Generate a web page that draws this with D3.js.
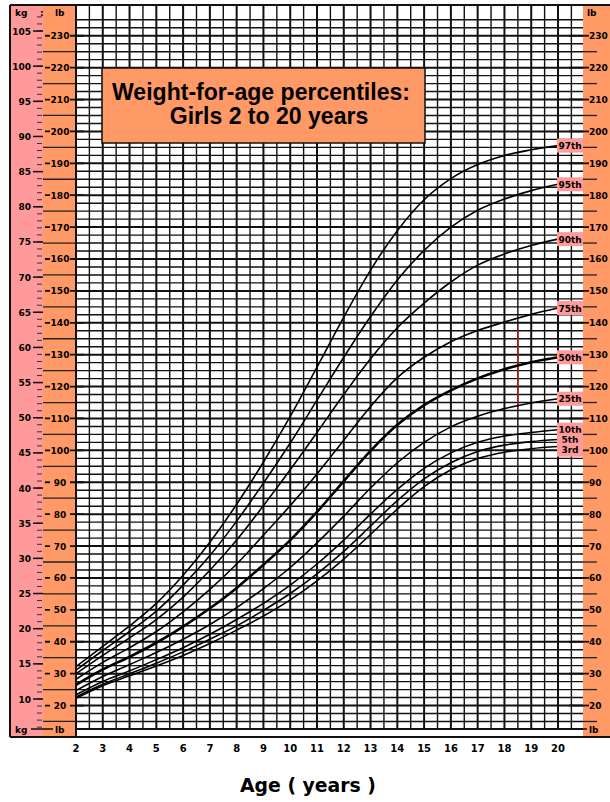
<!DOCTYPE html>
<html><head><meta charset="utf-8">
<script src="https://cdn.jsdelivr.net/npm/d3@7"></script>
<style>body{margin:0;background:#fff;} svg{display:block}</style>
</head><body>
<svg id="c" width="610" height="802"></svg>
<script>
// ---- data ----
const ages = [2,3,4,5,6,7,8,9,10,11,12,13,14,15,16,17,18,19,20];
const p97 = [14.6,17.5,20.4,23.6,27.6,32.3,37.7,43.7,50.2,57.2,64.3,71.0,76.6,81.0,84.0,86.0,87.3,88.1,88.7];
const p95 = [14.1,16.9,19.6,22.5,26.2,30.4,35.3,40.7,46.4,52.5,58.6,64.4,69.6,73.8,77.1,79.5,81.1,82.3,83.2];
const p90 = [13.6,16.2,18.7,21.3,24.5,28.3,32.6,37.5,42.6,47.9,53.3,58.4,62.8,66.3,69.3,71.7,73.3,74.5,75.4];
const p75 = [12.8,15.2,17.3,19.6,22.4,25.6,29.2,33.3,37.5,42.0,46.8,51.6,55.7,58.6,60.8,62.4,63.6,64.7,65.6];
const p50 = [12.0,14.2,16.0,18.0,20.3,22.9,25.8,29.1,32.6,36.6,41.0,45.3,49.0,51.8,53.9,55.6,56.9,57.9,58.6];
const p25 = [11.2,13.2,14.9,16.6,18.5,20.6,23.0,25.7,28.7,32.2,36.0,40.0,43.6,46.5,48.7,50.2,51.3,52.1,52.7];
const p10 = [10.6,12.5,14.0,15.6,17.3,19.2,21.3,23.6,26.2,29.2,32.6,36.3,39.8,42.8,45.0,46.5,47.4,47.9,48.3];
const p5  = [10.3,12.1,13.6,15.1,16.7,18.5,20.4,22.6,25.0,27.8,31.0,34.6,38.2,41.3,43.6,45.2,46.1,46.6,46.9];
const p3  = [10.1,11.9,13.3,14.7,16.2,17.9,19.8,21.8,24.1,26.8,29.9,33.4,37.0,40.2,42.6,44.2,45.1,45.6,45.9];
const percentileNames = ["97th","95th","90th","75th","50th","25th","10th","5th","3rd"];
const percentileSeries = [p97,p95,p90,p75,p50,p25,p10,p5,p3];
const kgTicks = [10,15,20,25,30,35,40,45,50,55,60,65,70,75,80,85,90,95,100,105];
const lbTicks = [20,30,40,50,60,70,80,90,100,110,120,130,140,150,160,170,180,190,200,210,220,230];
const ageTicks = [2,3,4,5,6,7,8,9,10,11,12,13,14,15,16,17,18,19,20];
const redMarker = {age:18.5, fromKg:51.5, toKg:62.5};
const titleLines = ["Weight-for-age percentiles:", "Girls 2 to 20 years"];
const xTitle = "Age ( years )";

// ---- layout ----
const pink = "#ff9a9a", orange = "#ff9966";
const F = {left:10, top:5, bottom:737, split:43, plotL:76, plotR:583, gridTop:12, gridBot:729};
const KG_PER_LB = 1/2.20462;
const svg = d3.select("#c");
const x = d3.scaleLinear().domain([2,20]).range([76,558]);
const y = d3.scaleLinear().domain([10,105]).range([699,31]);
const yLb = v => y(v*KG_PER_LB);
const font = "'DejaVu Sans', sans-serif";

// bands
svg.append("rect").attr("x",F.left).attr("y",F.top).attr("width",F.split-F.left).attr("height",F.bottom-F.top).attr("fill",pink);
svg.append("rect").attr("x",F.split).attr("y",F.top).attr("width",F.plotL-F.split).attr("height",F.bottom-F.top).attr("fill",orange);
svg.append("rect").attr("x",F.plotR).attr("y",F.top).attr("width",610-F.plotR).attr("height",F.bottom-F.top).attr("fill",orange);

const g = svg.append("g");
// horizontal grid every 2.5 lb
const lbGrid = d3.range(10,240,2.5).filter(v => yLb(v) >= F.gridTop && yLb(v) <= F.gridBot-3);
g.selectAll(".hg").data(lbGrid).join("line")
  .attr("x1",F.plotL).attr("x2",F.plotR)
  .attr("y1",d=>yLb(d)).attr("y2",d=>yLb(d))
  .attr("stroke","#111").attr("stroke-width",d=>d%10===0?2:1.4);
// vertical grid every half year
const halfYears = d3.range(2,21.0,0.5).filter(a => x(a) <= F.plotR-5);
g.selectAll(".vg").data(halfYears).join("line")
  .attr("x1",d=>x(d)).attr("x2",d=>x(d))
  .attr("y1",F.top).attr("y2",F.bottom)
  .attr("stroke","#111").attr("stroke-width",d=>Number.isInteger(d)?2:1.4);
// bottom strip
svg.append("rect").attr("x",F.plotL).attr("y",F.gridBot+1).attr("width",F.plotR-F.plotL).attr("height",F.bottom-F.gridBot-2).attr("fill","#fff");
const quarterTicks = d3.range(2,20.9,0.25).filter(a => x(a) <= F.plotR-3);
g.selectAll(".bt").data(quarterTicks).join("line")
  .attr("x1",d=>x(d)).attr("x2",d=>x(d))
  .attr("y1",F.gridBot).attr("y2",F.bottom)
  .attr("stroke","#333").attr("stroke-width",1);
svg.append("line").attr("x1",F.plotL).attr("x2",F.plotR).attr("y1",F.gridBot).attr("y2",F.gridBot).attr("stroke","#111").attr("stroke-width",2);

// left kg axis (pink band)
const kgMinor = d3.range(6,108).filter(k => y(k) >= F.gridTop && y(k) <= F.gridBot);
svg.selectAll(".kgm").data(kgMinor).join("line")
  .attr("x1",37).attr("x2",42).attr("y1",d=>y(d)).attr("y2",d=>y(d))
  .attr("stroke","#333").attr("stroke-width",1);
svg.selectAll(".kgM").data(kgTicks).join("line")
  .attr("x1",33).attr("x2",F.split).attr("y1",d=>y(d)).attr("y2",d=>y(d))
  .attr("stroke","#111").attr("stroke-width",1.5);
svg.selectAll(".kgl").data(kgTicks).join("text")
  .attr("x",31).attr("y",d=>y(d)+3.5).attr("text-anchor","end")
  .attr("font-family",font).attr("font-weight","bold").attr("font-size",9).text(d=>d);

// left lb axis (orange band)
const lbMinor = d3.range(15,235,5).filter(v => v%10!==0 && yLb(v) >= F.gridTop && yLb(v) <= F.gridBot);
svg.selectAll(".lbm").data(lbMinor).join("line")
  .attr("x1",F.split).attr("x2",F.plotL).attr("y1",d=>yLb(d)).attr("y2",d=>yLb(d))
  .attr("stroke","#222").attr("stroke-width",1.3);
svg.selectAll(".lbM").data(lbTicks).join("line")
  .attr("x1",F.split+2).attr("x2",F.plotL+8).attr("y1",d=>yLb(d)).attr("y2",d=>yLb(d))
  .attr("stroke","#111").attr("stroke-width",1.8);
const lbl = svg.selectAll(".lbl").data(lbTicks).join("g").attr("transform",d=>`translate(60,${yLb(d)})`);
lbl.append("rect").attr("x",-10).attr("y",-5).attr("width",20).attr("height",10).attr("fill",orange);
lbl.append("text").attr("y",3.5).attr("text-anchor","middle")
  .attr("font-family",font).attr("font-weight","bold").attr("font-size",9).text(d=>d);

// right lb axis
svg.selectAll(".rlbm").data(lbMinor).join("line")
  .attr("x1",F.plotR).attr("x2",F.plotR+14).attr("y1",d=>yLb(d)).attr("y2",d=>yLb(d))
  .attr("stroke","#222").attr("stroke-width",1.3);
svg.selectAll(".rlbM").data(lbTicks).join("line")
  .attr("x1",F.plotR-14).attr("x2",F.plotR+6).attr("y1",d=>yLb(d)).attr("y2",d=>yLb(d))
  .attr("stroke","#111").attr("stroke-width",1.8);
svg.selectAll(".rlbl").data(lbTicks).join("text")
  .attr("x",F.plotR+6).attr("y",d=>yLb(d)+3.5)
  .attr("font-family",font).attr("font-weight","bold").attr("font-size",9).text(d=>d);

// unit labels
[["kg",15],[":",40],["lb",55]].forEach(([t,xx])=>{
  svg.append("text").attr("x",xx).attr("y",16).attr("font-family",font).attr("font-weight","bold").attr("font-size",9).text(t);
  svg.append("text").attr("x",xx).attr("y",F.gridBot+3.5).attr("font-family",font).attr("font-weight","bold").attr("font-size",9).text(t===":"?"":t);
});
svg.append("line").attr("x1",31).attr("x2",53).attr("y1",F.gridBot).attr("y2",F.gridBot).attr("stroke","#111").attr("stroke-width",1.5);
svg.append("text").attr("x",F.plotR+4).attr("y",16).attr("font-family",font).attr("font-weight","bold").attr("font-size",9).text("lb");
svg.append("line").attr("x1",F.plotR).attr("x2",F.plotR+4).attr("y1",F.gridBot).attr("y2",F.gridBot).attr("stroke","#111").attr("stroke-width",1.5);
svg.append("text").attr("x",F.plotR+6).attr("y",F.gridBot+3.5).attr("font-family",font).attr("font-weight","bold").attr("font-size",9).text("lb");

// frame lines
svg.append("line").attr("x1",F.left).attr("x2",F.left).attr("y1",F.top).attr("y2",F.bottom).attr("stroke","#111").attr("stroke-width",2);
svg.append("line").attr("x1",F.plotL).attr("x2",F.plotL).attr("y1",F.top).attr("y2",F.bottom).attr("stroke","#111").attr("stroke-width",2);
svg.append("line").attr("x1",F.left).attr("x2",610).attr("y1",F.top).attr("y2",F.top).attr("stroke","#111").attr("stroke-width",2);
svg.append("line").attr("x1",F.left).attr("x2",610).attr("y1",F.bottom).attr("y2",F.bottom).attr("stroke","#111").attr("stroke-width",2);

// title box
svg.append("rect").attr("x",102).attr("y",68).attr("width",323).attr("height",75).attr("fill",orange).attr("stroke","#111").attr("stroke-width",1.5);
function fitText(sel, target){ const w = sel.node().getComputedTextLength(); const fs = +sel.attr("font-size"); sel.attr("font-size", fs*target/w); }
const t1 = svg.append("text").attr("x",261).attr("y",100).attr("text-anchor","middle").attr("font-family","'Liberation Sans', Arial, sans-serif").attr("font-weight","bold").attr("font-size",18).text(titleLines[0]);
fitText(t1, 298);
const t2 = svg.append("text").attr("x",269).attr("y",124).attr("text-anchor","middle").attr("font-family","'Liberation Sans', Arial, sans-serif").attr("font-weight","bold").attr("font-size",18).text(titleLines[1]);
t2.attr("font-size", t1.attr("font-size"));

// red marker
svg.append("line").attr("x1",x(redMarker.age)).attr("x2",x(redMarker.age)).attr("y1",y(redMarker.toKg)).attr("y2",y(redMarker.fromKg)).attr("stroke","#b01818").attr("stroke-width",1.5);

// curves
const line = d3.line().x((d,i)=>x(ages[i])).y(d=>y(d)).curve(d3.curveMonotoneX);
svg.selectAll(".pc").data(percentileSeries).join("path")
  .attr("d",d=>line(d)).attr("fill","none").attr("stroke","#000")
  .attr("stroke-width",(d,i)=>percentileNames[i]==="50th"?2.6:1.6);

// percentile labels
let prev = -Infinity;
const labY = percentileSeries.map(s => y(s[s.length-1])).map(v => { const r = Math.max(v, prev+10); prev = r; return r; });
const pl = svg.selectAll(".pl").data(percentileNames).join("g").attr("transform",(d,i)=>`translate(${F.plotR-13},${labY[i]})`);
pl.append("rect").attr("x",-13).attr("y",-7).attr("width",26).attr("height",14).attr("fill",pink);
pl.append("text").attr("y",3.5).attr("text-anchor","middle").attr("font-family",font).attr("font-weight","bold").attr("font-size",9).text(d=>d);

// x tick labels
svg.selectAll(".xl").data(ageTicks).join("text")
  .attr("x",d=>x(d)).attr("y",752).attr("text-anchor","middle")
  .attr("font-family",font).attr("font-weight","bold").attr("font-size",10).text(d=>d);
const xt = svg.append("text").attr("x",308).attr("y",792).attr("text-anchor","middle")
  .attr("font-family",font).attr("font-weight","bold").attr("font-size",17).text(xTitle);
fitText(xt, 136);
</script>
</body></html>
